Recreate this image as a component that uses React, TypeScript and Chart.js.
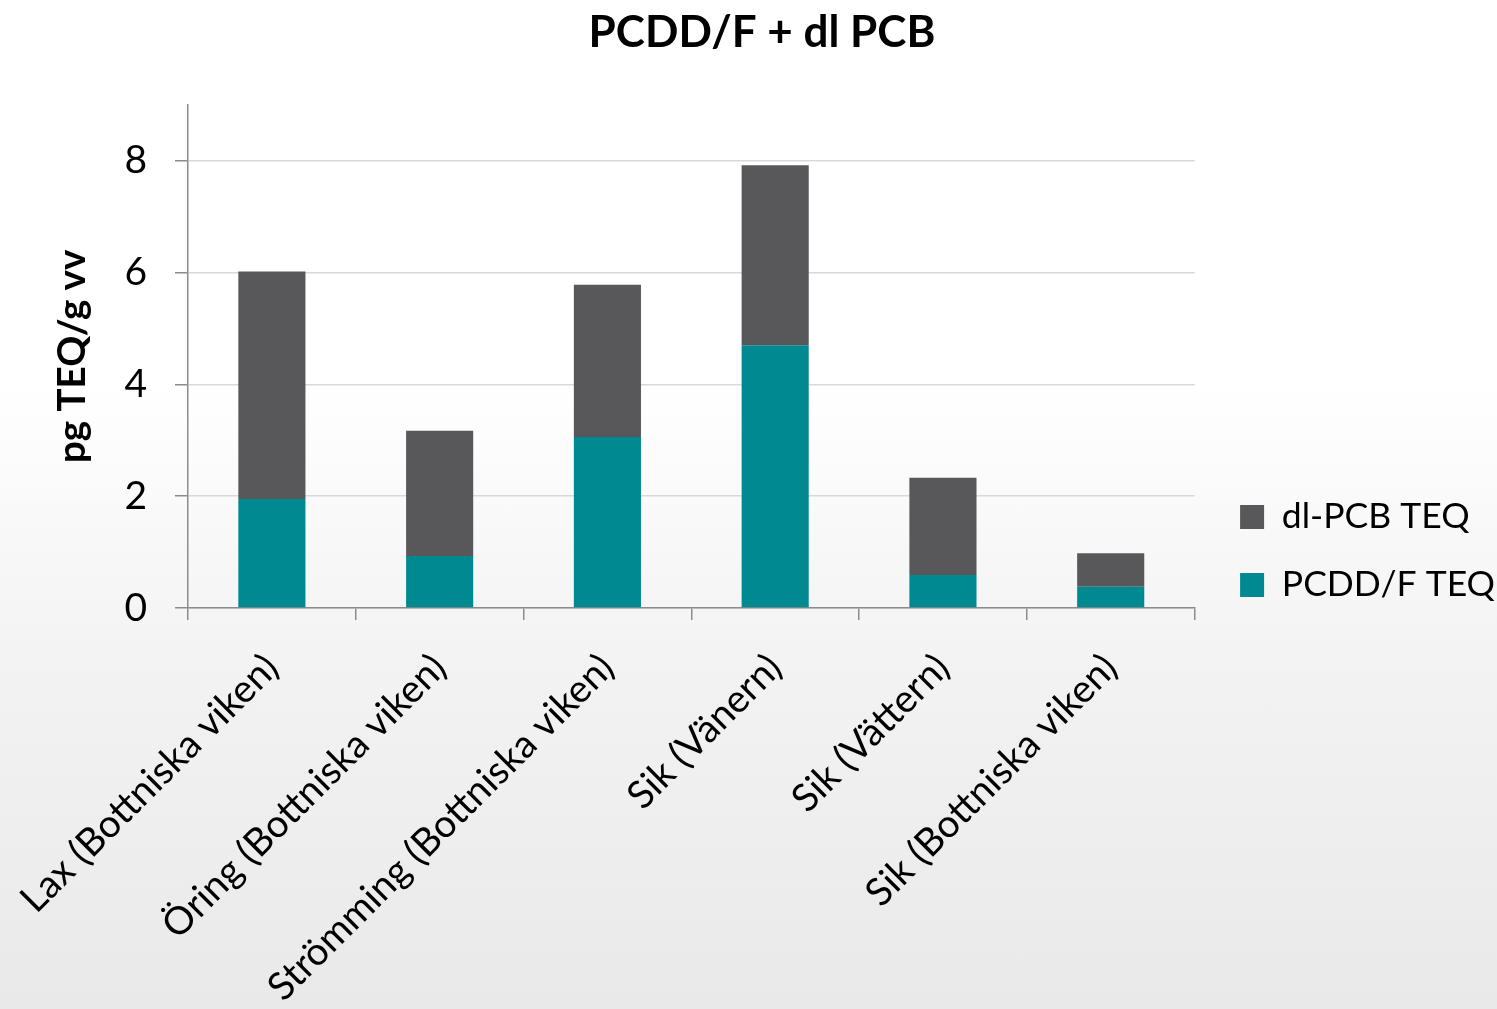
import React, { useEffect, useRef } from "react";
import { Chart, registerables } from "chart.js";

Chart.register(...registerables);

const categories = [
  "Lax (Bottniska viken)",
  "Öring (Bottniska viken)",
  "Strömming (Bottniska viken)",
  "Sik (Vänern)",
  "Sik (Vättern)",
  "Sik (Bottniska viken)",
];
const pcddfTeq = [1.95, 0.93, 3.06, 4.7, 0.59, 0.38];
const dlPcbTeq = [4.07, 2.24, 2.72, 3.22, 1.74, 0.6];
const yTicks = [0, 2, 4, 6, 8];

const FONT = "Lato, 'Open Sans', sans-serif";

export default function App() {
  const ref = useRef<HTMLCanvasElement | null>(null);

  useEffect(() => {
    if (!ref.current) return;
    const chart = new Chart(ref.current, {
      type: "bar",
      data: {
        labels: categories,
        datasets: [
          {
            label: "PCDD/F TEQ",
            data: pcddfTeq,
            backgroundColor: "#008991",
            borderWidth: 0,
            barPercentage: 0.4,
            categoryPercentage: 1,
          },
          {
            label: "dl-PCB TEQ",
            data: dlPcbTeq,
            backgroundColor: "#58585B",
            borderWidth: 0,
            barPercentage: 0.4,
            categoryPercentage: 1,
          },
        ],
      },
      options: {
        animation: false,
        responsive: false,
        maintainAspectRatio: false,
        layout: { padding: { left: 19, right: -8, top: 0, bottom: 0 } },
        plugins: {
          title: {
            display: true,
            text: "PCDD/F + dl PCB",
            color: "#000",
            font: { family: FONT, size: 44, weight: "bold" },
            padding: { top: 6, bottom: 46 },
          },
          legend: {
            position: "right",
            align: "start",
            reverse: true,
            maxWidth: 400,
            title: {
              display: true,
              text: "",
              font: { family: FONT, size: 10 },
              padding: { top: 454.75, bottom: 0 },
            },
            labels: {
              boxWidth: 24,
              boxHeight: 24,
              padding: 32.5,
              color: "#000",
              font: { family: FONT, size: 35.5 },
            },
          },
          tooltip: { enabled: false },
        },
        scales: {
          x: {
            stacked: true,
            afterFit: (s: any) => {
              s.paddingLeft = 0;
              s.paddingRight = 0;
              s.height = 401;
            },
            grid: {
              offset: true,
              drawOnChartArea: false,
              drawTicks: true,
              tickLength: 12,
              tickColor: "#8c8c8c",
              lineWidth: 1.5,
            },
            border: { color: "#8c8c8c", width: 1.5 },
            ticks: {
              minRotation: 45,
              maxRotation: 45,
              autoSkip: false,
              color: "#000",
              padding: 25,
              font: { family: FONT, size: 38.5 },
            },
          },
          y: {
            stacked: true,
            min: 0,
            max: 9,
            afterBuildTicks: (scale: any) => {
              scale.ticks = yTicks.map((v) => ({ value: v }));
            },
            afterFit: (s: any) => {
              s.width = 169;
            },
            grid: {
              color: "#d9d9d9",
              lineWidth: 1.5,
              tickColor: "#8c8c8c",
              tickLength: 13,
            },
            border: { color: "#8c8c8c", width: 1.5 },
            ticks: {
              color: "#000",
              padding: 28,
              font: { family: FONT, size: 39 },
            },
            title: {
              display: true,
              text: "pg TEQ/g vv",
              color: "#000",
              font: { family: FONT, size: 38.5, weight: "bold" },
              padding: { top: 30, bottom: 10 },
            },
          },
          gap: {
            type: "linear",
            position: "right",
            grid: { display: false },
            border: { display: false },
            ticks: { display: false },
            afterFit: (s: any) => {
              s.width = 13;
            },
          },
        },
      },
    });
    return () => chart.destroy();
  }, []);

  return (
    <div
      style={{
        position: "fixed",
        left: 0,
        top: 0,
        width: 1497,
        height: 1009,
        background:
          "linear-gradient(to bottom, #ffffff 0%, #ffffff 38%, #f3f3f3 65%, #e9e9e9 100%)",
      }}
    >
      <canvas ref={ref} width={1497} height={1009} style={{ display: "block" }} />
    </div>
  );
}
